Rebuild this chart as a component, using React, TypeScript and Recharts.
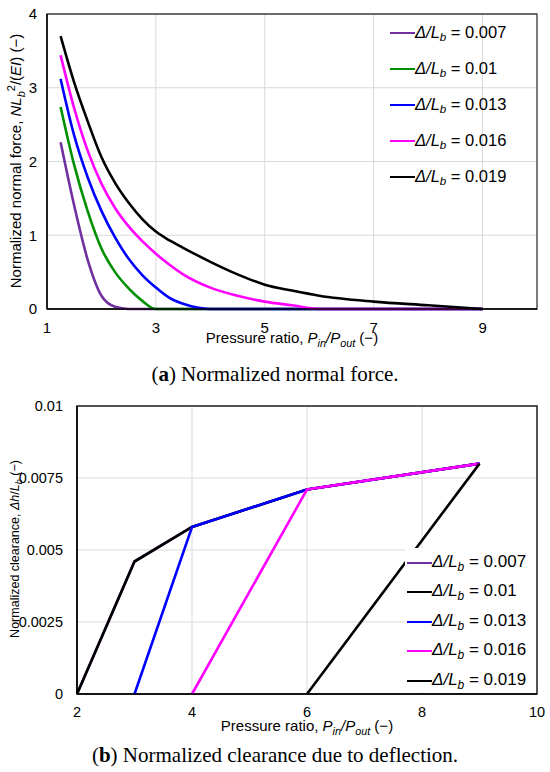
import { LineChart, Line, XAxis, YAxis, CartesianGrid, Legend, ReferenceArea, Label } from "recharts";

// Δ/Lb cases, same order in both panels
const DELTAS = ["0.007", "0.01", "0.013", "0.016", "0.019"];
const FORCE_COLORS = ["#7030A0", "#009000", "#0000FF", "#FF00FF", "#000000"];
const CLEARANCE_COLORS = ["#7030A0", "#000000", "#0000FF", "#FF00FF", "#000000"];

// (a) normalized normal force vs pressure ratio
const FORCE_PRESSURE = [1.25, 1.5, 1.75, 2, 2.25, 2.5, 2.75, 3, 3.25, 3.5, 4, 4.5, 5, 5.5, 6, 7, 8, 9];
const FORCE_007 = [2.26, 1.4, 0.66, 0.18, 0.03, 0, 0, 0, 0, 0, 0, 0, 0, 0, 0, 0, 0, 0];
const FORCE_010 = [2.74, 1.95, 1.32, 0.82, 0.5, 0.28, 0.11, 0, 0, 0, 0, 0, 0, 0, 0, 0, 0, 0];
const FORCE_013 = [3.12, 2.35, 1.78, 1.33, 0.97, 0.68, 0.46, 0.29, 0.15, 0.07, 0, 0, 0, 0, 0, 0, 0, 0];
const FORCE_016 = [3.44, 2.72, 2.14, 1.7, 1.37, 1.12, 0.92, 0.75, 0.6, 0.47, 0.29, 0.18, 0.1, 0.05, 0, 0, 0, 0];
const FORCE_019 = [3.7, 3.07, 2.54, 2.06, 1.71, 1.44, 1.22, 1.05, 0.93, 0.83, 0.64, 0.47, 0.33, 0.25, 0.18, 0.1, 0.05, 0];
const FORCE_SERIES = [FORCE_007, FORCE_010, FORCE_013, FORCE_016, FORCE_019];
const FORCE_TICKS_X = [1, 3, 5, 7, 9];
const FORCE_TICKS_Y = [0, 1, 2, 3, 4];

// (b) normalized clearance vs pressure ratio
const CLEARANCE_PRESSURE = [2, 3, 4, 6, 9];
const CLEARANCE_007 = [0, 0.0046, 0.0058, 0.0071, 0.008];
const CLEARANCE_010 = [0, 0.0046, 0.0058, 0.0071, 0.008];
const CLEARANCE_013 = [null, 0, 0.0058, 0.0071, 0.008];
const CLEARANCE_016 = [null, null, 0, 0.0071, 0.008];
const CLEARANCE_019 = [null, null, null, 0, 0.008];
const CLEARANCE_SERIES = [CLEARANCE_007, CLEARANCE_010, CLEARANCE_013, CLEARANCE_016, CLEARANCE_019];
const CLEARANCE_TICKS_X = [2, 4, 6, 8, 10];
const CLEARANCE_TICKS_Y = [0, 0.0025, 0.005, 0.0075, 0.01];

const SANS = "'Liberation Sans', Arial, sans-serif";
const SERIF = "'Liberation Serif', 'Times New Roman', serif";
const GRID = "#d9d9d9";

function buildRows(xs: number[], series: (number | null)[][]) {
  return xs.map((p, i) => {
    const row: Record<string, number | null> = { p };
    series.forEach((s, k) => {
      row[`d${k}`] = s[i];
    });
    return row;
  });
}

const forceData = buildRows(FORCE_PRESSURE, FORCE_SERIES);
const clearanceData = buildRows(CLEARANCE_PRESSURE, CLEARANCE_SERIES);

function DeltaLegend({ payload, fontSize, rowHeight, lineLeft, background, boxHeight }: any) {
  return (
    <div
      style={{
        background,
        height: boxHeight,
        fontFamily: SANS,
        fontSize,
        color: "#000",
        paddingLeft: lineLeft,
        boxSizing: "border-box",
      }}
    >
      {(payload || []).map((entry: any) => (
        <div key={entry.value} style={{ display: "flex", alignItems: "center", height: rowHeight, whiteSpace: "nowrap" }}>
          <span style={{ display: "inline-block", width: 25, borderTop: `2.5px solid ${entry.color}` }} />
          <span>
            <i>Δ/L</i>
            <sub style={{ fontSize: "0.7em", fontStyle: "italic", verticalAlign: "-0.3em" }}>b</sub> = {entry.value}
          </span>
        </div>
      ))}
    </div>
  );
}

function PressureTitle({ x, y, fontSize }: { x: number; y: number; fontSize: number }) {
  const small = fontSize * 0.72;
  return (
    <text x={x} y={y} textAnchor="middle" fontFamily={SANS} fontSize={fontSize} fill="#000">
      Pressure ratio, <tspan fontStyle="italic">P</tspan>
      <tspan fontSize={small} fontStyle="italic" dy={4}>in</tspan>
      <tspan dy={-4} fontStyle="italic">/P</tspan>
      <tspan fontSize={small} fontStyle="italic" dy={4}>out</tspan>
      <tspan dy={-4}> (−)</tspan>
    </text>
  );
}

function ForceChart() {
  return (
    <LineChart width={550} height={352} data={forceData} margin={{ top: 14, right: 13, bottom: 0, left: 0 }}>
      <CartesianGrid stroke={GRID} strokeWidth={1} />
      <XAxis
        dataKey="p"
        type="number"
        domain={[1, 10]}
        ticks={FORCE_TICKS_X}
        interval={0}
        height={43}
        tickLine={false}
        tickSize={0}
        tickMargin={13}
        axisLine={{ stroke: "#000", strokeWidth: 1.5 }}
        tick={{ fontFamily: SANS, fontSize: 15, fill: "#000" }}
      >
        <Label content={() => <PressureTitle x={292} y={343} fontSize={15} />} />
      </XAxis>
      <YAxis
        type="number"
        domain={[0, 4]}
        ticks={FORCE_TICKS_Y}
        interval={0}
        width={47}
        tickLine={false}
        tickSize={0}
        tickMargin={10}
        axisLine={{ stroke: "#000", strokeWidth: 1.5 }}
        tick={{ fontFamily: SANS, fontSize: 15, fill: "#000" }}
      >
        <Label
          content={() => (
            <text
              x={21}
              y={161}
              transform="rotate(-90, 21, 161)"
              textAnchor="middle"
              fontFamily={SANS}
              fontSize={15}
              fill="#000"
            >
              Normalized normal force, <tspan fontStyle="italic">NL</tspan>
              <tspan fontSize={11} fontStyle="italic" dy={4}>b</tspan>
              <tspan fontSize={11} dx={0} dy={-10}>2</tspan>
              <tspan dy={6}>/(</tspan>
              <tspan fontStyle="italic">EI</tspan>) (−)
            </text>
          )}
        />
      </YAxis>
      <ReferenceArea x1={1} x2={10} y1={0} y2={4} fill="none" fillOpacity={0} stroke="#404040" strokeWidth={1.3} />
      {DELTAS.map((d, k) => (
        <Line
          key={d}
          type="monotone"
          dataKey={`d${k}`}
          name={d}
          stroke={FORCE_COLORS[k]}
          strokeWidth={2.6}
          dot={false}
          activeDot={false}
          isAnimationActive={false}
        />
      ))}
      <Legend
        layout="vertical"
        align="center"
        verticalAlign="middle"
        wrapperStyle={{ left: 390, top: 15, width: 150 }}
        content={(props: any) => (
          <DeltaLegend payload={props.payload} fontSize={16.5} rowHeight={36} lineLeft={0} background="transparent" />
        )}
      />
    </LineChart>
  );
}

function ClearanceChart() {
  return (
    <LineChart width={550} height={346} data={clearanceData} margin={{ top: 16, right: 13, bottom: 0, left: 0 }}>
      <CartesianGrid stroke={GRID} strokeWidth={1} />
      <XAxis
        dataKey="p"
        type="number"
        domain={[2, 10]}
        ticks={CLEARANCE_TICKS_X}
        interval={0}
        height={42}
        tickLine={false}
        tickSize={0}
        tickMargin={13}
        axisLine={{ stroke: "#000", strokeWidth: 1.5 }}
        tick={{ fontFamily: SANS, fontSize: 14.5, fill: "#000" }}
      >
        <Label content={() => <PressureTitle x={307} y={341} fontSize={15} />} />
      </XAxis>
      <YAxis
        type="number"
        domain={[0, 0.01]}
        ticks={CLEARANCE_TICKS_Y}
        interval={0}
        width={77}
        tickLine={false}
        tickSize={0}
        tickMargin={14}
        axisLine={{ stroke: "#000", strokeWidth: 1.5 }}
        tick={{ fontFamily: SANS, fontSize: 14.5, fill: "#000" }}
      >
        <Label
          content={() => (
            <text
              x={19}
              y={159}
              transform="rotate(-90, 19, 159)"
              textAnchor="middle"
              fontFamily={SANS}
              fontSize={12.5}
              fill="#000"
            >
              Normalized clearance, <tspan fontStyle="italic">Δh</tspan>/<tspan fontStyle="italic">L</tspan>
              <tspan fontSize={9} fontStyle="italic" dy={3}>b</tspan>
              <tspan dy={-3}> (−)</tspan>
            </text>
          )}
        />
      </YAxis>
      <ReferenceArea x1={2} x2={10} y1={0} y2={0.01} fill="none" fillOpacity={0} stroke="#202020" strokeWidth={1.5} />
      {DELTAS.map((d, k) => (
        <Line
          key={d}
          type="linear"
          dataKey={`d${k}`}
          name={d}
          stroke={CLEARANCE_COLORS[k]}
          strokeWidth={2.6}
          dot={false}
          activeDot={false}
          isAnimationActive={false}
        />
      ))}
      <Legend
        layout="vertical"
        align="center"
        verticalAlign="middle"
        wrapperStyle={{ left: 405, top: 158, width: 131 }}
        content={(props: any) => (
          <DeltaLegend
            payload={props.payload}
            fontSize={17}
            rowHeight={29.5}
            lineLeft={2}
            background="#fff"
            boxHeight={144}
          />
        )}
      />
    </LineChart>
  );
}

export default function App() {
  return (
    <div style={{ position: "absolute", left: 0, top: 0, width: 550, height: 772, background: "#fff" }}>
      <div style={{ position: "absolute", left: 0, top: 0 }}>
        <ForceChart />
      </div>
      <div style={{ position: "absolute", left: 0, top: 364, width: 550, textAlign: "center", fontFamily: SERIF, fontSize: 21, lineHeight: "21px" }}>
        (<b>a</b>) Normalized normal force.
      </div>
      <div style={{ position: "absolute", left: 0, top: 390 }}>
        <ClearanceChart />
      </div>
      <div style={{ position: "absolute", left: 0, top: 745, width: 550, textAlign: "center", fontFamily: SERIF, fontSize: 21, lineHeight: "21px" }}>
        (<b>b</b>) Normalized clearance due to deflection.
      </div>
    </div>
  );
}
